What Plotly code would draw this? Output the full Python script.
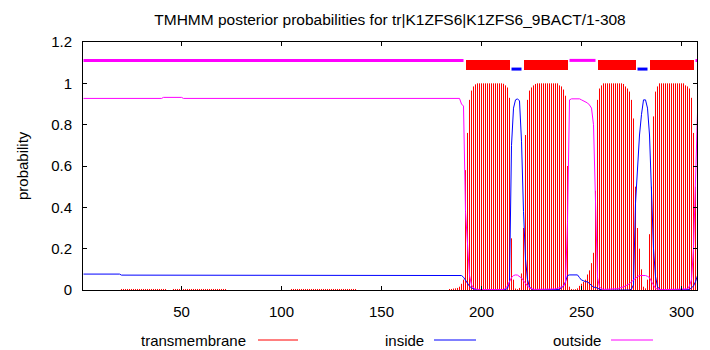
import plotly.graph_objects as go

# ---------------- data ----------------
residues = list(range(1, 309))

tm_prob = [
    0, 0, 0, 0, 0, 0, 0, 0, 0, 0, 0, 0, 0, 0, 0, 0, 0, 0, 0, .005,
    .005, .005, .005, .005, .005, .005, .005, .005, .005, .005, .005, .005, .005, .005, .005, .005, .005, .005, .005, .005,
    .005, .005, 0, 0, 0, .005, .005, .005, .005, .005, .005, .005, .005, .005, .005, .005, .005, .005, .005, .005,
    .005, .005, .005, .005, .005, .005, .005, .005, .005, .005, .005, .005, 0, 0, 0, 0, 0, 0, 0, 0,
    0, 0, 0, 0, 0, 0, 0, 0, 0, 0, 0, 0, 0, 0, 0, 0, 0, 0, 0, 0,
    0, 0, 0, 0, .005, .005, .005, .005, .005, .005, .005, .005, .005, .005, .005, .005, .005, .005, .005, .005,
    .005, .005, .005, .005, .005, .005, .005, .005, .005, .005, .005, .005, .005, .005, .005, .005, .005, 0, 0, 0,
    0, 0, 0, 0, 0, 0, 0, 0, 0, 0, 0, 0, 0, 0, 0, 0, 0, 0, 0, 0,
    0, 0, 0, 0, 0, 0, 0, 0, 0, 0, 0, 0, 0, 0, 0, 0, 0, 0, 0, 0,
    0, 0, 0, .005, .005, .007, .008, .01, .016, .03, .05, .58, .76, .92, .965, .985, .995, 1, 1, 1,
    1, 1, 1, 1, 1, 1, 1, 1, 1, 1, .998, .99, .98, .93, .25, .05, .007, .004, .01, .08,
    .3, .75, .92, .965, .98, .99, .997, 1, 1, 1, 1, 1, 1, 1, 1, 1, 1, 1, .99, .985,
    .97, .94, .6, .016, .005, .003, .004, .008, .02, .03, .04, .05, .075, .095, .13, .18, .48, .92, .975, .99,
    1, 1, 1, 1, 1, 1, 1, 1, 1, 1, .997, .985, .975, .96, .92, .83, .5, .3, .2, .1,
    .016, .008, .05, .27, .5, .84, .96, .985, 1, 1, 1, 1, 1, 1, 1, 1, 1, 1, 1, 1,
    1, .99, .985, .975, .93, .76, .5, .1,
]

inside_prob = [
    .077, .077, .077, .077, .077, .077, .077, .077, .077, .077, .077, .077, .077, .077, .077, .077, .077, .077, .077, .072,
    .072, .072, .072, .072, .072, .072, .072, .072, .072, .072, .072, .072, .072, .072, .072, .072, .072, .072, .072, .072,
    .072, .072, .072, .072, .072, .072, .072, .072, .072, .072, .072, .072, .072, .072, .072, .072, .072, .072, .072, .072,
    .072, .072, .072, .072, .072, .072, .072, .072, .072, .072, .072, .072, .072, .072, .072, .072, .072, .072, .072, .072,
    .072, .072, .072, .072, .072, .072, .072, .072, .072, .072, .072, .072, .072, .072, .072, .072, .072, .072, .072, .072,
    .072, .072, .072, .072, .072, .072, .072, .072, .072, .072, .072, .072, .072, .072, .072, .072, .072, .072, .072, .072,
    .072, .072, .072, .072, .072, .072, .072, .072, .072, .072, .072, .072, .072, .072, .072, .072, .072, .072, .072, .072,
    .072, .072, .072, .072, .072, .072, .072, .072, .072, .072, .072, .072, .072, .072, .072, .072, .072, .072, .072, .072,
    .072, .072, .072, .072, .072, .072, .072, .072, .072, .072, .072, .072, .072, .072, .072, .072, .072, .072, .072, .072,
    .072, .072, .072, .072, .072, .072, .072, .072, .072, .07, .062, .045, .03, .018, .01, .005, .002, 0, 0, 0,
    0, 0, 0, 0, 0, 0, 0, 0, 0, 0, 0, .002, .008, .04, .7, .88, .92, .925, .915, .72,
    .38, .15, .05, .015, .005, 0, 0, 0, 0, 0, 0, 0, 0, 0, 0, 0, 0, 0, .003, .01,
    .02, .04, .07, .073, .073, .073, .073, .073, .06, .048, .045, .04, .04, .03, .024, .013, .013, .008, .003, 0,
    0, 0, 0, 0, 0, 0, 0, 0, 0, 0, 0, 0, 0, 0, .005, .025, .42, .6, .75, .85,
    .92, .92, .88, .75, .5, .2, .065, .016, .005, 0, 0, 0, 0, 0, 0, 0, 0, 0, 0, 0,
    0, 0, 0, .003, .01, .02, .04, .07,
]

outside_prob = [
    .927, .927, .927, .927, .927, .927, .927, .927, .927, .927, .927, .927, .927, .927, .927, .927, .927, .927, .927, .927,
    .927, .927, .927, .927, .927, .927, .927, .927, .927, .927, .927, .927, .927, .927, .927, .927, .927, .927, .927, .927,
    .932, .932, .932, .932, .932, .932, .932, .932, .932, .932, .927, .927, .927, .927, .927, .927, .927, .927, .927, .927,
    .927, .927, .927, .927, .927, .927, .927, .927, .927, .927, .927, .927, .927, .927, .927, .927, .927, .927, .927, .927,
    .927, .927, .927, .927, .927, .927, .927, .927, .927, .927, .927, .927, .927, .927, .927, .927, .927, .927, .927, .927,
    .927, .927, .927, .927, .927, .927, .927, .927, .927, .927, .927, .927, .927, .927, .927, .927, .927, .927, .927, .927,
    .927, .927, .927, .927, .927, .927, .927, .927, .927, .927, .927, .927, .927, .927, .927, .927, .927, .927, .927, .927,
    .927, .927, .927, .927, .927, .927, .927, .927, .927, .927, .927, .927, .927, .927, .927, .927, .927, .927, .927, .927,
    .927, .927, .927, .927, .927, .927, .927, .927, .927, .927, .927, .927, .927, .927, .927, .927, .927, .927, .927, .927,
    .927, .927, .927, .927, .927, .927, .927, .927, .927, .9, .89, .38, .2, .07, .025, .01, .005, .002, .002, .002,
    .002, .002, .002, .002, .002, .002, .002, .002, .002, .002, .002, .008, .02, .04, .06, .07, .073, .072, .065, .058,
    .045, .03, .02, .01, .005, .003, .003, .003, .003, .003, .003, .003, .003, .003, .003, .003, .005, .008, .01, .015,
    .02, .035, .33, .92, .925, .925, .925, .925, .925, .92, .915, .91, .905, .895, .88, .8, .45, .06, .015, .006,
    .003, .003, .003, .003, .003, .003, .003, .006, .01, .012, .015, .02, .025, .03, .04, .05, .06, .065, .07, .07,
    .07, .07, .066, .06, .04, .02, .008, .004, .002, .002, .002, .002, .002, .002, .002, .002, .002, .002, .002, .002,
    .002, .002, .005, .02, .05, .2, .5, .86,
]

# predicted topology (top track)
seg_start = [1, 192, 215, 221, 244, 258, 278, 284, 307]
seg_end = [191, 214, 220, 243, 257, 277, 283, 306, 308]
seg_type = ["outside", "TMhelix", "inside", "TMhelix", "outside", "TMhelix", "inside", "TMhelix", "outside"]

title_text = "TMHMM posterior probabilities for tr|K1ZFS6|K1ZFS6_9BACT/1-308"
y_label = "probability"
legend_labels = ["transmembrane", "inside", "outside"]
y_ticks = [0, 0.2, 0.4, 0.6, 0.8, 1.0, 1.2]
x_ticks = [50, 100, 150, 200, 250, 300]

assert len(tm_prob) == 308 and len(inside_prob) == 308 and len(outside_prob) == 308

# ---------------- styling ----------------
RED = "#ff0000"
BLUE = "#0000ff"
MAGENTA = "#ff00ff"
FONT = "Liberation Sans"
FS = 15
FS_TITLE = 15.5

# the page body adds an 8px offset; compensate so the plot sits where the reference has it
OFF = 8
W, H = 710 - OFF, 350 - OFF
ML, MR, MT, MB = 83 - OFF, 13, 42 - OFF, 60
PW = W - ML - MR
PH = H - MT - MB

fig = go.Figure()

# transmembrane impulses
ix, iy = [], []
for r, p in zip(residues, tm_prob):
    if p > 0:
        ix += [r, r, None]
        iy += [0, p, None]
fig.add_trace(go.Scatter(x=ix, y=iy, mode="lines",
                         line=dict(color=RED, width=1), showlegend=False, hoverinfo="skip"))

# inside / outside curves
fig.add_trace(go.Scatter(x=residues, y=inside_prob, mode="lines",
                         line=dict(color=BLUE, width=1), showlegend=False))
fig.add_trace(go.Scatter(x=residues, y=outside_prob, mode="lines",
                         line=dict(color=MAGENTA, width=1), showlegend=False))

# top track
Y_OUT = 1.111
Y_IN = 1.069
TM_BASE = 1.066
TM_H = 0.047
ox, oy, nx, ny = [], [], [], []
tmx, tmw = [], []
for s, e, t in zip(seg_start, seg_end, seg_type):
    if t == "outside":
        ox += [s, e, None]
        oy += [Y_OUT, Y_OUT, None]
    elif t == "inside":
        nx += [s, e, None]
        ny += [Y_IN, Y_IN, None]
    else:
        tmx.append((s + e) / 2)
        tmw.append(e - s)
fig.add_trace(go.Scatter(x=ox, y=oy, mode="lines", line=dict(color=MAGENTA, width=3), showlegend=False))
fig.add_trace(go.Scatter(x=nx, y=ny, mode="lines", line=dict(color=BLUE, width=3), showlegend=False))
fig.add_trace(go.Bar(x=tmx, y=[TM_H] * len(tmx), base=TM_BASE, width=tmw,
                     marker=dict(color=RED, line=dict(width=0)), showlegend=False))

# axes
axis_common = dict(showline=True, linecolor="black", linewidth=1, mirror="ticks",
                   ticks="inside", ticklen=4, tickcolor="black", showgrid=False,
                   zeroline=False, tickfont=dict(family=FONT, size=FS, color="black"))
fig.update_xaxes(range=[0.75, 307.75], tickvals=x_ticks, ticklabelstandoff=8, **axis_common)
fig.update_yaxes(range=[0, 1.2], tickvals=y_ticks, ticktext=["0", "0.2", "0.4", "0.6", "0.8", "1", "1.2"],
                 ticklabelstandoff=7, **axis_common)

# legend (text followed by line sample, gnuplot style); positions in page pixels
leg_text_right = [248, 426, 603]
leg_line = [(258, 298), (434, 476), (611, 653)]
leg_colors = [RED, BLUE, MAGENTA]
leg_y_px = 340
ly = (42 + PH - leg_y_px) / PH
annotations = []
shapes = []
for lab, xr, (l0, l1), c in zip(legend_labels, leg_text_right, leg_line, leg_colors):
    annotations.append(dict(text=lab, xref="paper", yref="paper", x=(xr - 83) / PW, y=ly,
                            xanchor="right", yanchor="middle", showarrow=False,
                            font=dict(family=FONT, size=FS, color="black")))
    shapes.append(dict(type="line", xref="paper", yref="paper", x0=(l0 - 83) / PW, x1=(l1 - 83) / PW,
                       y0=ly, y1=ly, line=dict(color=c, width=1)))

annotations.append(dict(text=y_label, xref="paper", yref="paper", x=(22 - 83) / PW, y=0.5,
                        xanchor="center", yanchor="middle", textangle=-90, showarrow=False,
                        font=dict(family=FONT, size=FS, color="black")))

fig.update_layout(
    width=W, height=H,
    margin=dict(l=ML, r=MR, t=MT, b=MB),
    paper_bgcolor="white", plot_bgcolor="white",
    barmode="overlay", bargap=0,
    title=dict(text=title_text, x=0.5, xref="paper", xanchor="center",
               y=1 - (20 - OFF) / H, yref="container", yanchor="middle",
               font=dict(family=FONT, size=FS_TITLE, color="black")),
    annotations=annotations, shapes=shapes,
    showlegend=False,
)

fig.write_html("out.html", config={"displayModeBar": False})
